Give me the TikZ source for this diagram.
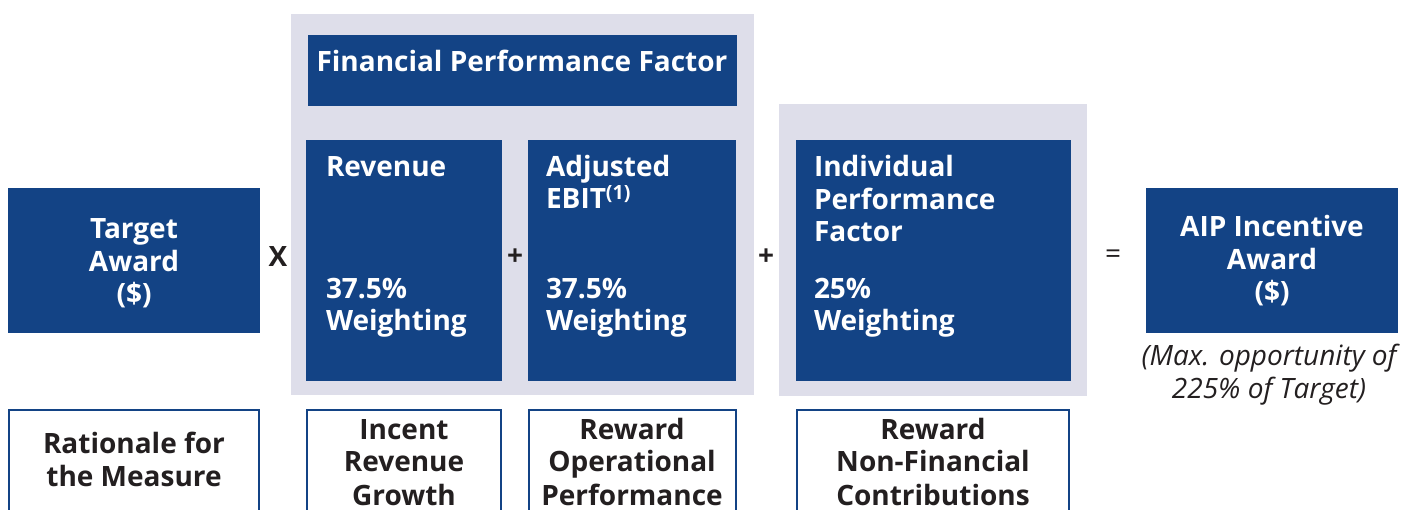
\documentclass[tikz,border=0pt]{standalone}
\usepackage{fontspec}
\setmainfont{Open Sans}
\definecolor{navy}{RGB}{19,67,133}
\definecolor{panel}{RGB}{222,222,234}
\definecolor{ink}{RGB}{35,31,32}
\tikzset{
  bluebox/.style={fill=navy, draw=none, inner sep=0pt, outer sep=0pt, anchor=north west},
  panelbox/.style={fill=panel, draw=none, inner sep=0pt, outer sep=0pt, anchor=north west},
  outlinebox/.style={draw=navy, line width=2pt, fill=white, inner sep=0pt, outer sep=0pt, anchor=north west},
  wtext/.style={text=white, font=\bfseries\fontsize{28}{32.5}\selectfont, inner sep=0pt, outer sep=0pt},
  dtext/.style={text=ink, font=\bfseries\fontsize{28}{33}\selectfont, inner sep=0pt, outer sep=0pt},
  optext/.style={text=ink, font=\fontsize{28}{30}\selectfont, inner sep=0pt, outer sep=0pt, anchor=center},
  itext/.style={text=ink, font=\itshape\fontsize{28}{33}\selectfont, inner sep=0pt, outer sep=0pt, align=center},
}
\begin{document}
\begin{tikzpicture}[x=1pt,y=-1pt]
\useasboundingbox (0,0) rectangle (1401,510);
% panels
\node[panelbox, minimum width=463pt, minimum height=381pt] (fpanel) at (291,14) {};
\node[panelbox, minimum width=308pt, minimum height=292pt] (ipanel) at (779,104) {};
% blue boxes
\node[bluebox, minimum width=252pt, minimum height=145pt] (target) at (8,188) {};
\node[bluebox, minimum width=429pt, minimum height=71pt] (fpf) at (308,35) {};
\node[bluebox, minimum width=196pt, minimum height=241pt] (rev) at (306,140) {};
\node[bluebox, minimum width=208pt, minimum height=241pt] (ebit) at (528,140) {};
\node[bluebox, minimum width=275pt, minimum height=241pt] (ipf) at (796,140) {};
\node[bluebox, minimum width=252pt, minimum height=145pt] (aip) at (1146,188) {};
% outline boxes
\node[outlinebox, minimum width=250pt, minimum height=110pt] (rat) at (9,410) {};
\node[outlinebox, minimum width=194pt, minimum height=110pt] (incent) at (307,410) {};
\node[outlinebox, minimum width=207pt, minimum height=110pt] (rop) at (529,410) {};
\node[outlinebox, minimum width=272pt, minimum height=110pt] (rnf) at (797,410) {};
% texts in blue boxes (base anchor = baseline of last line)
\node[wtext, align=center, anchor=base] (targett) at (134,304) {Target\\Award\\(\$)};
\node[wtext, anchor=base] (fpft) at (522,72) {Financial Performance Factor};
\node[wtext, anchor=base west] (revt) at (326,177) {Revenue};
\node[wtext, align=left, anchor=base west] (revw) at (326,331) {37.5\%\\Weighting};
\node[wtext, align=left, anchor=base west] (ebitt) at (546,209) {Adjusted\\EBIT\textsuperscript{(1)}};
\node[wtext, align=left, anchor=base west] (ebitw) at (546,331) {37.5\%\\Weighting};
\node[wtext, align=left, anchor=base west] (ipft) at (814,242) {Individual\\Performance\\Factor};
\node[wtext, align=left, anchor=base west] (ipfw) at (814,331) {25\%\\Weighting};
\node[wtext, align=center, anchor=base] (aipt) at (1272,302) {AIP Incentive\\Award\\(\$)};
\node[itext, anchor=base] (maxt) at (1269,399) {(Max. opportunity of\\225\% of Target)};
% operators
\node[optext, font=\bfseries\fontsize{28}{30}\selectfont] (opx) at (278,257) {X};
\node[optext, font=\bfseries\fontsize{28}{30}\selectfont] (op1) at (515,257) {+};
\node[optext, font=\bfseries\fontsize{28}{30}\selectfont] (op2) at (766,257) {+};
\node[optext] (op3) at (1113,257) {=};
% bottom texts
\node[dtext, align=center, anchor=base] (ratt) at (134,487) {Rationale for\\the Measure};
\node[dtext, align=center, anchor=base] (incentt) at (404,505) {Incent\\Revenue\\Growth};
\node[dtext, align=center, anchor=base] (ropt) at (632,505) {Reward\\Operational\\Performance};
\node[dtext, align=center, anchor=base] (rnft) at (933,505) {Reward\\Non-Financial\\Contributions};
\end{tikzpicture}
\end{document}
